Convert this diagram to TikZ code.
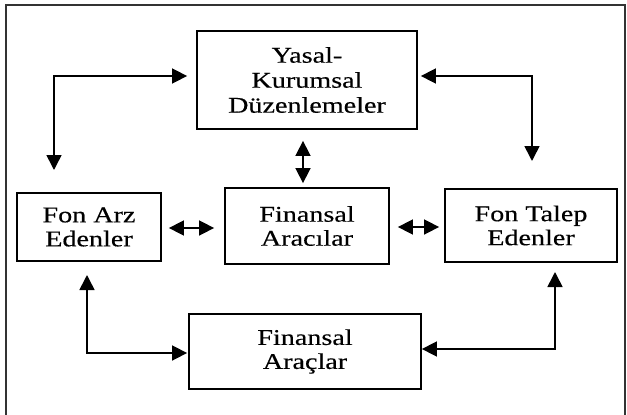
\documentclass[tikz,border=0pt]{standalone}
\usepackage{fontspec}
\setmainfont{Liberation Serif}
\newfontfamily\wide{Liberation Serif}[FakeStretch=1.25,FakeBold=0.4]
\usetikzlibrary{arrows.meta}
\begin{document}
\begin{tikzpicture}[x=1pt,y=1pt,
  box/.style={draw=black,line width=1.8pt,inner sep=0pt,align=center,
    font=\wide\fontsize{22.5}{24}\selectfont},
  topbox/.style={box,font=\wide\fontsize{22.5}{25}\selectfont},
  link/.style={line width=1.6pt,{Triangle[length=15pt,width=15pt]}-{Triangle[length=15pt,width=15pt]}},
  frame/.style={draw=black!80,line width=2pt}]
\useasboundingbox (0,0) rectangle (627,-415);
\draw[frame] (6,-420) -- (6,-5) -- (625,-5) -- (625,-420);

\node[topbox,minimum width=220pt,minimum height=98pt] (yasal) at (307,-80) {Yasal-\\Kurumsal\\Düzenlemeler};
\node[box,minimum width=144pt,minimum height=68pt] (arz) at (89,-227) {Fon Arz\\Edenler};
\node[box,minimum width=164pt,minimum height=76pt] (aracilar) at (307,-226) {Finansal\\Aracılar};
\node[box,minimum width=172pt,minimum height=73pt] (talep) at (531,-225.5) {Fon Talep\\Edenler};
\node[box,minimum width=232pt,minimum height=75pt] (araclar) at (305,-351.5) {Finansal\\Araçlar};

% free ends
\coordinate (tl) at (54,-170);
\coordinate (tr) at (532,-161);
\coordinate (bl) at (87,-275);
\coordinate (br) at (555,-272);

\draw[link] (tl) |- ([xshift=-9pt,yshift=4pt]yasal.west);
\draw[link] ([xshift=3pt,yshift=4pt]yasal.east) -| (tr);
\draw[link] ([xshift=-4pt,yshift=-11pt]yasal.south) -- ([xshift=-4pt,yshift=4pt]aracilar.north);
\draw[link] ([xshift=7pt,yshift=-1pt]arz.east) -- ([xshift=-10pt,yshift=-2pt]aracilar.west);
\draw[link] ([xshift=8pt,yshift=-1pt]aracilar.east) -- ([xshift=-5pt,yshift=-1.5pt]talep.west);
\draw[link] (bl) |- ([xshift=-1pt,yshift=-1.5pt]araclar.west);
\draw[link] ([yshift=2.5pt]araclar.east) -| (br);
\end{tikzpicture}
\end{document}
